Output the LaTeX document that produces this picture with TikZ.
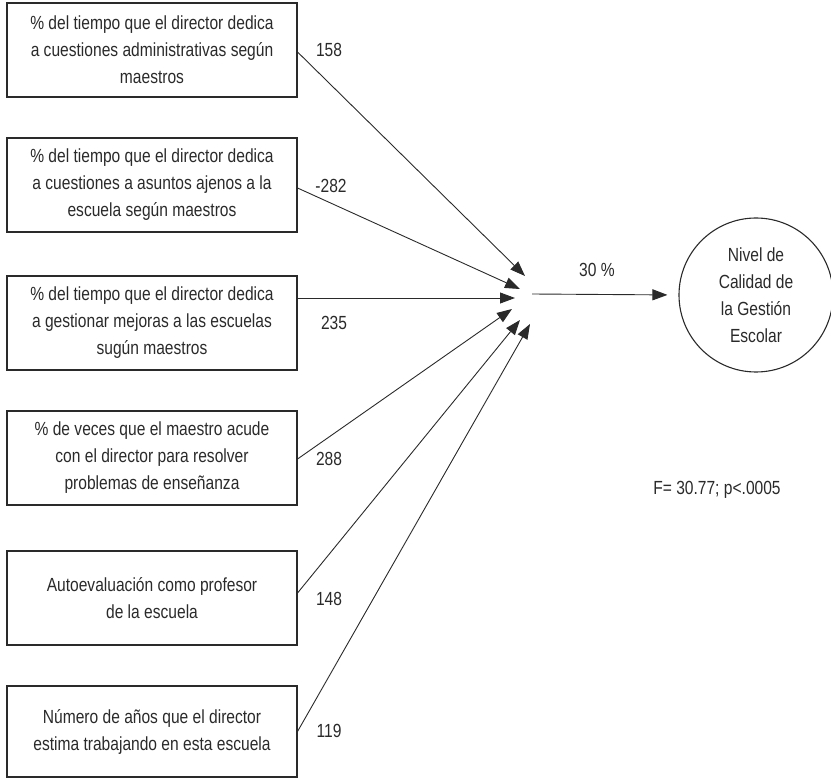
\documentclass[tikz,border=0pt]{standalone}
\usepackage{fontspec}
\setmainfont[FakeStretch=0.82]{Liberation Sans}
\usetikzlibrary{arrows.meta,calc}
\definecolor{ink}{HTML}{2A2A2A}
\begin{document}
\begin{tikzpicture}[x=1pt,y=-1pt,
  font=\fontsize{19}{27}\selectfont, text=ink,
  varbox/.style={draw=ink, line width=1.1pt, minimum width=290pt, minimum height=94pt,
    align=center, inner sep=0pt},
  coef/.style={inner sep=0pt},
  path/.style={draw=ink, line width=0.9pt, -{Triangle[length=15pt,width=11pt]}}]
\useasboundingbox (0,0) rectangle (831,778);

% predictor boxes
\node[varbox] (b1) at (152,50)  {\% del tiempo que el director dedica\\a cuestiones administrativas según\\maestros};
\node[varbox] (b2) at (152,185) {\% del tiempo que el director dedica\\a cuestiones a asuntos ajenos a la\\escuela según maestros};
\node[varbox] (b3) at (152,323) {\% del tiempo que el director dedica\\a gestionar mejoras a las escuelas\\sugún maestros};
\node[varbox] (b4) at (152,458) {\% de veces que el maestro acude\\con el director para resolver\\problemas de enseñanza};
\node[varbox] (b5) at (152,598) {Autoevaluación como profesor\\de la escuela};
\node[varbox, minimum height=91pt] (b6) at (152,731.5) {Número de años que el director\\estima trabajando en esta escuela};

% outcome
\node[draw=ink, line width=1.1pt, circle, minimum size=154pt, align=center, inner sep=0pt] (y) at (756,295)
  {Nivel de\\Calidad de\\la Gestión\\Escolar};

% arrow tips around the convergence point
\coordinate (t1) at (525,276);
\coordinate (t2) at (520,289);
\coordinate (t3) at (515,298);
\coordinate (t4) at (512,309);
\coordinate (t5) at (520,320);
\coordinate (t6) at (530,324);
\coordinate (o) at (532,294);

\draw[path] ($(b1.east)+(0,2)$) -- (t1);
\draw[path] ($(b2.east)+(0,3)$) -- (t2);
\draw[path] ($(b3.east)+(0,-25)$) -- (t3);
\draw[path] ($(b4.east)+(0,1)$) -- (t4);
\draw[path] ($(b5.east)+(0,-5)$) -- (t5);
\draw[path] (b6.east) -- (t6);
\draw[path, shorten >=11pt] (o) -- (y.west);

% path coefficients
\node[coef] (c1) at (329,50)  {158};
\node[coef] (c2) at (331,186) {-282};
\node[coef] (c3) at (334,323) {235};
\node[coef] (c4) at (329,459) {288};
\node[coef] (c5) at (329,599) {148};
\node[coef] (c6) at (329,731) {119};
\node[coef] (r2) at (597,270) {30 \%};
\node[coef] (ft) at (717,490) {F= 30.77; p<.0005};
\end{tikzpicture}
\end{document}
